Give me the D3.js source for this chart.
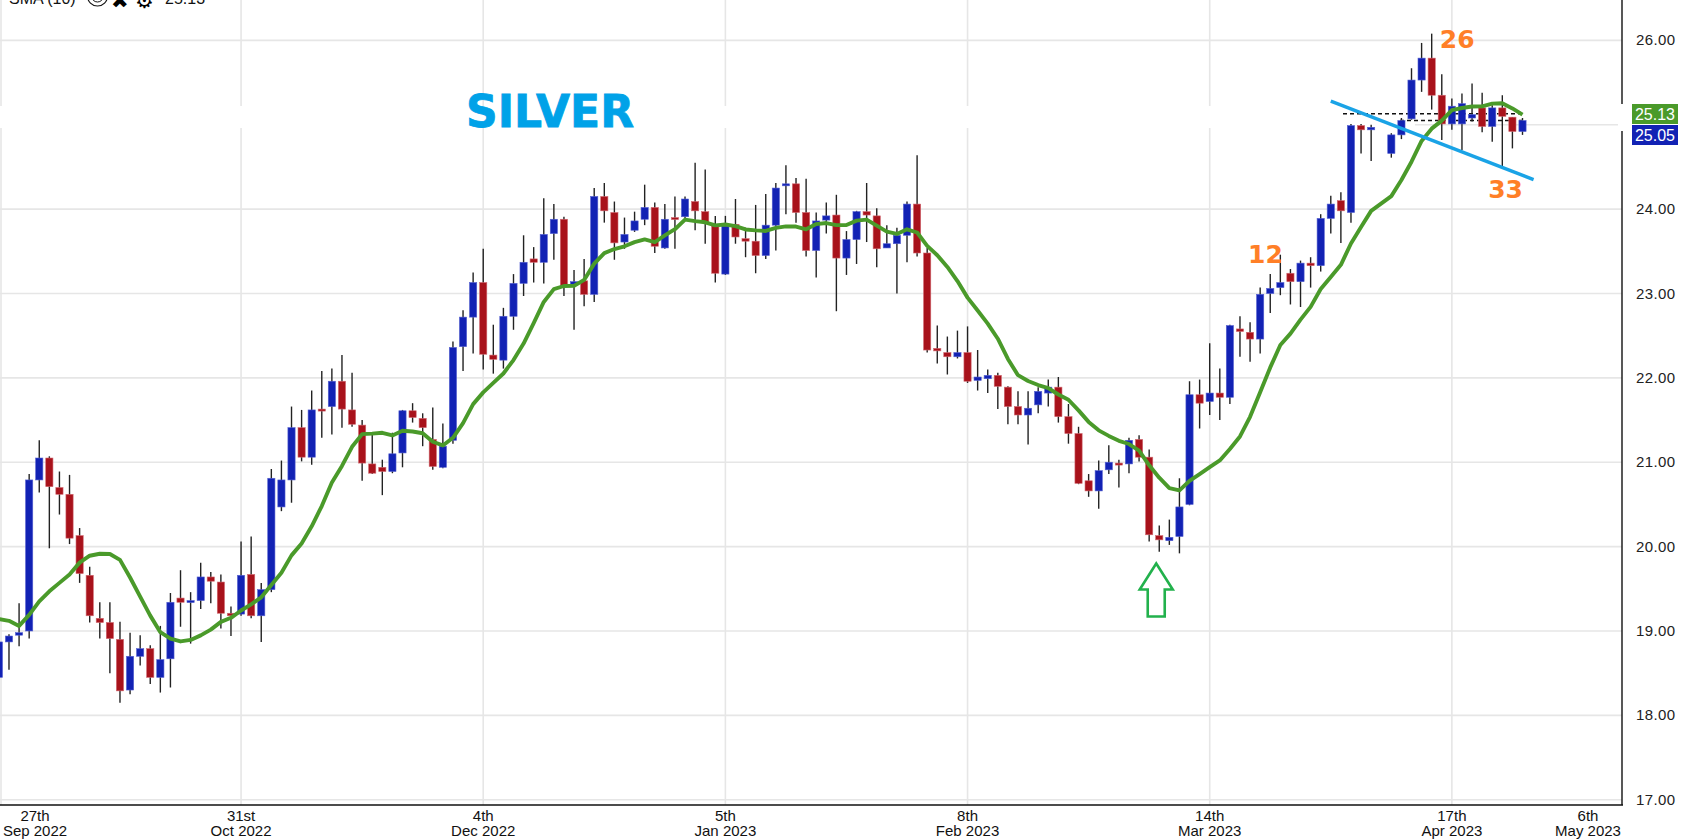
<!DOCTYPE html>
<html>
<head>
<meta charset="utf-8">
<script src="https://cdn.jsdelivr.net/npm/d3@7"></script>
<style>
  body { margin: 0; background: #fff; }
  text { font-family: "Liberation Sans", Arial, sans-serif; }
</style>
</head>
<body>
<script>
// daily silver candles (null = empty slot)
var opens = [18.45,18.87,18.95,19.00,20.79,21.05,20.70,20.62,20.13,19.66,
  19.15,19.10,18.90,18.30,18.70,18.79,18.45,18.67,19.39,19.34,
  19.36,19.64,19.58,19.21,19.20,19.67,19.18,19.49,20.47,20.79,
  21.41,21.06,21.63,21.66,21.96,21.62,21.44,20.98,20.94,20.89,
  21.11,21.61,21.52,21.27,20.94,21.26,22.37,22.72,23.13,22.27,
  22.21,22.73,23.12,23.41,23.37,23.71,23.88,23.10,23.15,22.99,
  24.15,23.96,23.61,23.75,23.88,24.02,23.54,23.90,23.91,24.09,
  23.97,23.80,23.23,23.82,23.65,23.62,23.45,23.81,24.28,24.30,
  23.96,23.51,23.87,23.93,23.42,23.64,23.97,23.92,23.54,23.59,
  23.69,24.06,23.48,22.35,22.30,22.25,22.30,21.97,21.99,22.03,
  21.89,21.66,21.56,21.68,21.82,21.89,21.54,21.34,20.78,20.66,
  20.91,20.99,20.98,21.27,21.06,20.13,20.07,20.12,20.50,21.80,
  21.72,21.82,21.77,22.58,22.54,22.46,23.00,23.07,23.24,23.14,
  23.36,23.33,23.89,24.10,23.96,24.99,24.94,null,24.66,24.88,
  25.07,25.53,25.79,25.35,25.01,25.01,25.08,25.20,24.98,25.20,
  25.09,24.92];
var highs = [18.92,18.96,19.33,20.86,21.26,21.07,20.89,20.85,20.22,19.76,
  19.34,19.34,19.11,18.98,18.95,18.83,19.06,19.45,19.72,19.46,
  19.81,19.70,19.67,19.29,20.06,20.12,19.57,20.92,21.02,21.66,
  21.62,21.85,22.08,22.11,22.27,22.06,21.50,21.33,21.03,21.35,
  21.62,21.70,21.58,21.65,21.46,22.43,22.80,23.25,23.53,22.63,
  22.83,23.23,23.69,23.55,24.13,24.06,23.91,23.28,23.41,24.25,
  24.31,24.09,23.90,23.97,24.29,24.08,24.06,24.15,24.15,24.55,
  24.47,23.92,23.92,24.12,23.78,24.05,24.18,24.31,24.52,24.37,
  24.36,23.96,24.08,24.17,23.74,23.98,24.31,24.01,23.81,23.78,
  24.09,24.64,23.54,22.62,22.49,22.56,22.61,22.33,22.10,22.06,
  21.90,21.84,21.84,21.89,21.98,22.01,21.69,21.42,20.86,21.02,
  21.20,21.03,21.29,21.32,21.15,20.25,20.32,20.81,21.96,21.98,
  22.41,22.11,22.63,22.73,22.66,23.07,23.23,23.46,23.29,23.39,
  23.43,23.94,24.16,24.20,25.01,25.01,25.00,null,24.90,25.08,
  25.67,25.97,26.08,25.60,25.31,25.37,25.49,25.38,25.23,25.35,
  25.09,25.08];
var lows = [18.33,18.54,18.82,18.91,20.64,19.98,20.38,20.03,19.57,19.10,
  18.91,18.50,18.15,18.25,18.59,18.37,18.27,18.33,19.05,18.85,
  19.26,19.33,19.03,18.94,19.18,19.15,18.87,19.46,20.42,20.52,
  21.01,20.97,21.29,21.33,21.41,21.42,20.78,20.86,20.61,20.87,
  20.94,21.47,21.19,20.91,20.93,21.22,22.08,22.29,22.10,22.05,
  22.11,22.57,22.97,23.13,23.12,23.40,22.97,22.57,22.85,22.90,
  23.84,23.40,23.53,23.73,23.81,23.48,23.53,23.53,23.89,23.75,
  23.59,23.13,23.22,23.59,23.43,23.24,23.41,23.51,23.94,23.84,
  23.44,23.19,23.71,22.79,23.22,23.35,23.61,23.31,23.54,23.00,
  23.37,23.44,22.30,22.17,22.04,22.23,21.94,21.85,21.82,21.63,
  21.45,21.45,21.21,21.58,21.66,21.47,21.22,20.74,20.59,20.45,
  20.86,20.70,20.87,21.01,20.06,19.94,20.02,19.92,20.49,21.40,
  21.56,21.50,21.69,22.25,22.19,22.29,22.77,22.98,22.87,22.84,
  23.07,23.26,23.71,23.60,23.84,24.66,24.57,null,24.61,24.83,
  25.06,25.39,25.18,24.82,24.94,24.70,25.04,24.91,24.80,24.50,
  24.72,24.88];
var closes = [18.87,18.94,18.98,20.79,21.05,20.71,20.62,20.10,19.68,19.18,
  19.10,18.91,18.29,18.70,18.79,18.45,18.66,19.34,19.34,19.36,
  19.64,19.59,19.21,19.18,19.66,19.18,19.49,20.81,20.79,21.41,
  21.06,21.62,21.61,21.96,21.63,21.45,20.99,20.87,20.89,21.10,
  21.61,21.53,21.41,20.95,21.19,22.36,22.72,23.13,22.28,22.22,
  22.73,23.12,23.37,23.37,23.70,23.88,23.09,23.14,22.99,24.15,
  23.98,23.60,23.70,23.86,24.02,23.56,23.88,23.88,24.12,23.98,
  23.84,23.24,23.80,23.67,23.62,23.45,23.81,24.25,24.30,23.96,
  23.51,23.86,23.92,23.42,23.64,23.97,23.93,23.53,23.59,23.69,
  24.06,23.48,22.33,22.32,22.25,22.30,21.96,22.01,22.03,21.90,
  21.66,21.56,21.64,21.84,21.89,21.54,21.34,20.75,20.66,20.90,
  21.00,20.98,21.26,21.06,20.14,20.08,20.11,20.47,21.80,21.70,
  21.82,21.77,22.62,22.55,22.46,22.99,23.06,23.13,23.14,23.36,
  23.33,23.89,24.06,23.98,24.99,24.94,24.97,null,24.88,25.05,
  25.53,25.79,25.35,25.01,25.22,25.25,25.12,24.98,25.20,25.10,
  24.92,25.05];

var smaLead = [19.14,19.12,19.06,19.19,19.35,19.47,19.57,19.67,19.81];

var tickIdx = [0, 24, 48, 72, 96, 120, 144, 168];
var tickDay = ["27th", "31st", "4th", "5th", "8th", "14th", "17th", "6th"];
var tickMonth = ["Sep 2022", "Oct 2022", "Dec 2022", "Jan 2023", "Feb 2023", "Mar 2023", "Apr 2023", "May 2023"];
var priceTicks = [17, 18, 19, 20, 21, 22, 23, 24, 25, 26];

var lastSma = 25.13, lastClose = 25.05;
var trendLine = [{i: 132, p: 25.28}, {i: 152.1, p: 24.35}];
var notes = [{label: "12", i: 123.8, p: 23.36}, {label: "26", i: 142.8, p: 25.91}, {label: "33", i: 147.6, p: 24.13}];
var arrowTip = {i: 114.7, p: 19.80};

var width = 1689, height = 840,
    plotRight = 1622, axisY = 805;

var blue = "#1222b4", red = "#a8121b", green = "#4a9a2a";

var svg = d3.select("body").append("svg")
    .attr("width", width)
    .attr("height", height);

var x = d3.scaleLinear().domain([0, 151]).range([-1.1, 1522.5]);
var y = d3.scaleLinear().domain([17, 26]).range([799.7, 40.4]);

var bars = d3.range(opens.length).map(function(i) {
  return {i: i, o: opens[i], h: highs[i], l: lows[i], c: closes[i]};
}).filter(function(d) { return d.o != null; });

// sma over the last 10 bars that exist
var sma = bars.map(function(d, k) {
  if (d.i < smaLead.length) return {i: d.i, v: smaLead[d.i]};
  var win = bars.slice(Math.max(0, k - 9), k + 1);
  return {i: d.i, v: d3.mean(win, function(b) { return b.c; })};
});

// grid
svg.append("g").selectAll("line")
  .data(priceTicks).enter().append("line")
    .attr("x1", 0).attr("x2", plotRight)
    .attr("y1", function(d) { return y(d); })
    .attr("y2", function(d) { return y(d); })
    .attr("stroke", "#e6e6e6").attr("stroke-width", 1.6);

svg.append("g").selectAll("line")
  .data(tickIdx.filter(function(t) { return x(t) < plotRight; })).enter().append("line")
    .attr("x1", function(d) { return Math.max(1, x(d)); })
    .attr("x2", function(d) { return Math.max(1, x(d)); })
    .attr("y1", 0).attr("y2", axisY)
    .attr("stroke", "#e6e6e6").attr("stroke-width", 1.6);

// axis lines
svg.append("line").attr("x1", 0).attr("x2", plotRight + 1).attr("y1", axisY).attr("y2", axisY)
  .attr("stroke", "#111").attr("stroke-width", 1.6);
svg.append("line").attr("x1", plotRight).attr("x2", plotRight).attr("y1", 0).attr("y2", axisY)
  .attr("stroke", "#111").attr("stroke-width", 1.4);

// pasted white band in the picture
svg.append("rect").attr("x", 0).attr("y", 106).attr("width", 1415).attr("height", 22).attr("fill", "#fff");
svg.append("rect").attr("x", plotRight - 4).attr("y", 104).attr("width", 9).attr("height", 27).attr("fill", "#fff");

// current value lines
svg.append("line").attr("x1", 1343).attr("x2", x(151) + 2)
  .attr("y1", y(lastSma)).attr("y2", y(lastSma))
  .attr("stroke", "#111").attr("stroke-width", 1.5).attr("stroke-dasharray", "4,3");
svg.append("line").attr("x1", 1400).attr("x2", x(151) + 2)
  .attr("y1", y(lastClose)).attr("y2", y(lastClose))
  .attr("stroke", "#111").attr("stroke-width", 1.5).attr("stroke-dasharray", "4,3");

// candles
var candle = svg.append("g").selectAll("g")
  .data(bars).enter().append("g");

candle.append("line")
    .attr("x1", function(d) { return x(d.i); })
    .attr("x2", function(d) { return x(d.i); })
    .attr("y1", function(d) { return y(d.h); })
    .attr("y2", function(d) { return y(d.l); })
    .attr("stroke", "#222").attr("stroke-width", 1.4);

candle.append("rect")
    .attr("x", function(d) { return x(d.i) - 3.6; })
    .attr("width", 7.2)
    .attr("y", function(d) { return y(Math.max(d.o, d.c)); })
    .attr("height", function(d) { return Math.max(2, Math.abs(y(d.o) - y(d.c))); })
    .attr("fill", function(d) { return d.c >= d.o ? blue : red; })
    .attr("stroke", function(d) { return d.c >= d.o ? "#5560d0" : "#d06870"; })
    .attr("stroke-width", 0.6);

// sma line
svg.append("path")
    .datum(sma)
    .attr("fill", "none")
    .attr("stroke", green)
    .attr("stroke-width", 3.9)
    .attr("stroke-linejoin", "round")
    .attr("d", d3.line()
      .x(function(d) { return x(d.i); })
      .y(function(d) { return y(d.v); }));

// trend line
svg.append("line")
    .attr("x1", x(trendLine[0].i)).attr("y1", y(trendLine[0].p))
    .attr("x2", x(trendLine[1].i)).attr("y2", y(trendLine[1].p))
    .attr("stroke", "#1aa3e6").attr("stroke-width", 3.4);

// numbers
svg.append("g").selectAll("text")
  .data(notes).enter().append("text")
    .attr("x", function(d) { return x(d.i); })
    .attr("y", function(d) { return y(d.p); })
    .style("font-family", "'DejaVu Sans', sans-serif")
    .style("font-weight", "bold")
    .style("font-size", "25px")
    .attr("fill", "#ff7f27")
    .text(function(d) { return d.label; });

// green hollow arrow
var ax = x(arrowTip.i), ay = y(arrowTip.p);
svg.append("path")
    .attr("d", "M" + ax + "," + ay +
      "L" + (ax + 16.5) + "," + (ay + 26) +
      "L" + (ax + 8.5) + "," + (ay + 26) +
      "L" + (ax + 8.5) + "," + (ay + 53) +
      "L" + (ax - 8.5) + "," + (ay + 53) +
      "L" + (ax - 8.5) + "," + (ay + 26) +
      "L" + (ax - 16.5) + "," + (ay + 26) + "Z")
    .attr("fill", "none")
    .attr("stroke", "#22b14c")
    .attr("stroke-width", 2.6)
    .attr("stroke-linejoin", "miter");

// title
svg.append("text")
    .attr("x", 466).attr("y", 126.5)
    .style("font-family", "'DejaVu Sans', sans-serif")
    .style("font-weight", "bold")
    .style("font-size", "44px")
    .attr("fill", "#00a2e8")
    .attr("stroke", "#00a2e8")
    .attr("stroke-width", 0.8)
    .text("SILVER");

// y axis labels
svg.append("g").selectAll("text")
  .data(priceTicks.filter(function(d) { return d != 25; })).enter().append("text")
    .attr("x", 1636)
    .attr("y", function(d) { return y(d) + 5; })
    .style("font-size", "15px")
    .style("letter-spacing", "0.4px")
    .attr("fill", "#222")
    .text(function(d) { return d3.format(".2f")(d); });

// last value tags
var tags = [{v: lastSma, color: green, top: 104}, {v: lastClose, color: blue, top: 125}];
var tag = svg.append("g").selectAll("g").data(tags).enter().append("g");
tag.append("rect")
    .attr("x", 1632).attr("y", function(d) { return d.top; })
    .attr("width", 46).attr("height", 20)
    .attr("fill", function(d) { return d.color; });
tag.append("text")
    .attr("x", 1655).attr("y", function(d) { return d.top + 15.5; })
    .attr("text-anchor", "middle")
    .style("font-size", "16px")
    .attr("fill", "#fff")
    .text(function(d) { return d3.format(".2f")(d.v); });

// x axis labels (kept inside the plot at both ends)
var xl = svg.append("g").selectAll("g")
  .data(tickIdx).enter().append("g")
    .attr("transform", function(d) {
      var cx = Math.min(Math.max(x(d), 35), plotRight - 34);
      return "translate(" + cx + ",0)";
    });
xl.append("text").attr("y", 821).attr("text-anchor", "middle")
    .style("font-size", "15px").attr("fill", "#111")
    .text(function(d, i) { return tickDay[i]; });
xl.append("text").attr("y", 836).attr("text-anchor", "middle")
    .style("font-size", "15px").attr("fill", "#111")
    .text(function(d, i) { return tickMonth[i]; });

// indicator legend, cut by the top edge as in the picture
var leg = svg.append("g");
leg.append("text").attr("x", 9).attr("y", 3.5).style("font-size", "16px").attr("fill", "#111").text("SMA (10)");
leg.append("circle").attr("cx", 97.5).attr("cy", -4).attr("r", 10).attr("fill", "none").attr("stroke", "#111").attr("stroke-width", 1.2);
leg.append("circle").attr("cx", 97.5).attr("cy", -4).attr("r", 6).attr("fill", "none").attr("stroke", "#111").attr("stroke-width", 1);
leg.append("text").attr("x", 111).attr("y", 8).style("font-family", "'DejaVu Sans', sans-serif").style("font-size", "21px").attr("fill", "#000").text("\u2716");
leg.append("text").attr("x", 135).attr("y", 8).style("font-family", "'DejaVu Sans', sans-serif").style("font-size", "21px").attr("fill", "#000").text("\u2699");
leg.append("text").attr("x", 165).attr("y", 3.5).style("font-size", "16px").attr("fill", "#111").text(d3.format(".2f")(lastSma));
</script>
</body>
</html>
